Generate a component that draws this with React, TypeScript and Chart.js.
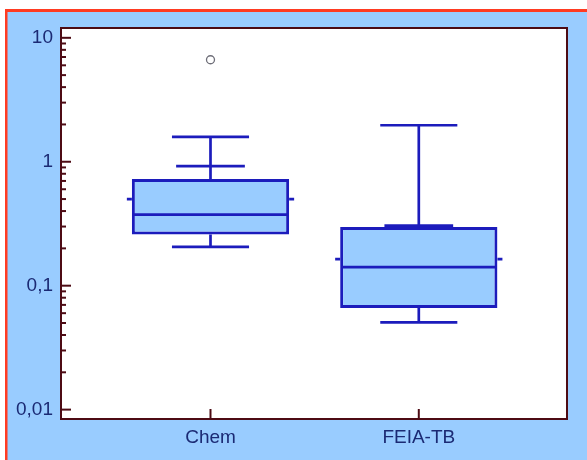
import { useEffect, useRef } from 'react';
import { Chart, registerables } from 'chart.js';
Chart.register(...registerables);

const W = 587;
const H = 460;

const categories = ['Chem', 'FEIA-TB'];
const catPos = [1, 2];
const whiskerLow = [0.206, 0.0505];
const q1 = [0.259, 0.0662];
const median = [0.374, 0.141];
const q3 = [0.725, 0.297];
const upperMark = [0.923, 0.305];
const whiskerHigh = [1.59, 1.97];
const mean = [0.5, 0.164];
const outlierCat = [1];
const outlierValue = [6.65];
const yTickValues = [0.01, 0.1, 1, 10];
const yTickLabels = ['0,01', '0,1', '1', '10'];

const BOX_W = 0.755;
const CAP_W = 0.37;
const MARK_W = 0.33;
const BLUE = '#1c1cbc';
const FILL = '#99ccff';
const FRAME = '#4d0b14';
const TEXT = '#1b2a74';
const FONT = { family: '"Liberation Sans", Arial, sans-serif', size: 19 };

const decorPlugin = {
  id: 'decor',
  beforeDraw(chart: any) {
    const { ctx, chartArea: a } = chart;
    ctx.save();
    ctx.fillStyle = '#ffffff';
    ctx.fillRect(0, 0, W, H);
    ctx.fillStyle = '#99ccff';
    ctx.fillRect(5, 9, W - 5, H - 9);
    ctx.fillStyle = '#ff3b22';
    ctx.fillRect(5, 9, W - 5, 3);
    ctx.fillRect(5, 9, 2.5, H - 9);
    ctx.fillStyle = '#ffffff';
    ctx.fillRect(a.left, a.top, a.right - a.left, a.bottom - a.top);
    ctx.restore();
  },
  afterDatasetsDraw(chart: any) {
    const { ctx } = chart;
    const xs = chart.scales.x;
    const ys = chart.scales.y;
    const unit = xs.getPixelForValue(2) - xs.getPixelForValue(1);
    ctx.save();
    ctx.strokeStyle = BLUE;
    ctx.lineWidth = 2.7;
    const hline = (cx: number, halfW: number, v: number) => {
      const y = ys.getPixelForValue(v);
      ctx.beginPath();
      ctx.moveTo(cx - halfW, y);
      ctx.lineTo(cx + halfW, y);
      ctx.stroke();
    };
    const vline = (cx: number, v1: number, v2: number) => {
      ctx.beginPath();
      ctx.moveTo(cx, ys.getPixelForValue(v1));
      ctx.lineTo(cx, ys.getPixelForValue(v2));
      ctx.stroke();
    };
    catPos.forEach((p, i) => {
      const cx = xs.getPixelForValue(p);
      vline(cx, q3[i], whiskerHigh[i]);
      vline(cx, q1[i], whiskerLow[i]);
      hline(cx, (CAP_W * unit) / 2, whiskerHigh[i]);
      hline(cx, (CAP_W * unit) / 2, whiskerLow[i]);
      hline(cx, (MARK_W * unit) / 2, upperMark[i]);
      hline(cx, (BOX_W * unit) / 2 - 1.5, median[i]);
      const half = (BOX_W * unit) / 2;
      const ym = ys.getPixelForValue(mean[i]);
      ctx.beginPath();
      ctx.moveTo(cx - half - 5, ym);
      ctx.lineTo(cx - half, ym);
      ctx.moveTo(cx + half, ym);
      ctx.lineTo(cx + half + 5, ym);
      ctx.stroke();
    });
    ctx.restore();
  },
  afterDraw(chart: any) {
    const { ctx, chartArea: a } = chart;
    const xs = chart.scales.x;
    const ys = chart.scales.y;
    ctx.save();
    ctx.strokeStyle = FRAME;
    ctx.lineWidth = 2;
    yTickValues.forEach((dv) => {
      const y = ys.getPixelForValue(dv);
      ctx.beginPath();
      ctx.moveTo(a.left, y);
      ctx.lineTo(a.left + 10, y);
      ctx.stroke();
      if (dv < 10) {
        for (let k = 2; k <= 9; k++) {
          const ym = ys.getPixelForValue(dv * k);
          ctx.beginPath();
          ctx.moveTo(a.left, ym);
          ctx.lineTo(a.left + 5, ym);
          ctx.stroke();
        }
      }
    });
    catPos.forEach((p) => {
      const x = xs.getPixelForValue(p);
      ctx.beginPath();
      ctx.moveTo(x, a.bottom);
      ctx.lineTo(x, a.bottom - 10);
      ctx.stroke();
    });
    ctx.strokeRect(a.left, a.top, a.right - a.left, a.bottom - a.top);
    ctx.restore();
  },
};

export default function App() {
  const ref = useRef<HTMLCanvasElement | null>(null);
  useEffect(() => {
    document.body.style.margin = '0';
    const canvas = ref.current!;
    const chart = new Chart(canvas, {
      type: 'bar',
      data: {
        datasets: [
          {
            type: 'bar',
            data: catPos.map((p, i) => ({ x: p, y: [q1[i], q3[i]] })) as any,
            backgroundColor: FILL,
            borderColor: BLUE,
            borderWidth: 3,
            borderSkipped: false,
            categoryPercentage: 1,
            barPercentage: BOX_W,
          },
          {
            type: 'scatter',
            data: outlierCat.map((c, i) => ({ x: c, y: outlierValue[i] })),
            pointRadius: 4,
            pointBackgroundColor: '#ffffff',
            pointBorderColor: '#6e6e78',
            pointBorderWidth: 1.3,
          } as any,
        ],
      },
      options: {
        animation: false,
        responsive: false,
        devicePixelRatio: 1,
        layout: { padding: { top: 28, right: 20, left: 0, bottom: 0 } },
        plugins: { legend: { display: false }, tooltip: { enabled: false } },
        scales: {
          x: {
            type: 'linear',
            offset: false,
            min: 0.2823,
            max: 2.7115,
            grid: { display: false, drawTicks: false },
            border: { display: false },
            afterBuildTicks: (s: any) => {
              s.ticks = catPos.map((v) => ({ value: v }));
            },
            afterFit: (s: any) => {
              s.height = 41;
            },
            ticks: {
              autoSkip: false,
              maxRotation: 0,
              padding: 7,
              color: TEXT,
              font: FONT,
              callback: (v: any) => categories[catPos.indexOf(Number(v))] ?? '',
            },
          },
          y: {
            type: 'logarithmic',
            min: 0.0084,
            max: 12,
            grid: { display: false, drawTicks: false },
            border: { display: false },
            afterBuildTicks: (s: any) => {
              s.ticks = yTickValues.map((v) => ({ value: v }));
            },
            afterFit: (s: any) => {
              s.width = 61;
            },
            ticks: {
              autoSkip: false,
              padding: 8,
              color: TEXT,
              font: FONT,
              callback: (v: any) => {
                const idx = yTickValues.findIndex((t) => Math.abs(t - Number(v)) < 1e-9);
                return idx >= 0 ? yTickLabels[idx] : '';
              },
            },
          },
        },
      },
      plugins: [decorPlugin],
    });
    return () => chart.destroy();
  }, []);
  return (
    <div style={{ width: W, height: H }}>
      <canvas ref={ref} width={W} height={H} style={{ display: 'block' }} />
    </div>
  );
}
